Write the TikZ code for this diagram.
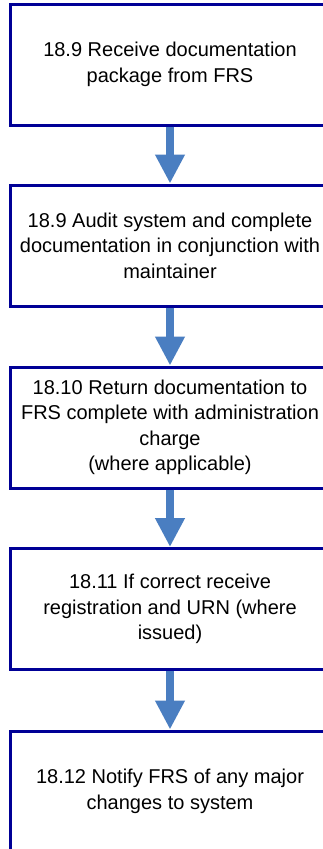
\documentclass[tikz,border=0pt]{standalone}
\usepackage{fontspec}
\setmainfont{Liberation Sans}
\usetikzlibrary{arrows.meta}
\definecolor{boxline}{RGB}{0,0,150}
\definecolor{flowblue}{RGB}{74,126,193}
\begin{document}
\begin{tikzpicture}[x=1pt,y=1pt,
  stepbox/.style={draw=boxline, line width=3pt, fill=white,
    minimum width=320pt, minimum height=121pt, inner sep=0pt,
    align=center, font=\fontsize{20pt}{25.5pt}\selectfont},
  flow/.style={draw=flowblue, line width=8.5pt,
    -{Triangle[width=28pt,length=29pt]}, flowblue}]
\useasboundingbox (0,0) rectangle (323,-849);
\node[stepbox] (s1) at (170,-64.5) {18.9 Receive documentation\\package from FRS};
\node[stepbox] (s2) at (170,-245.5) {18.9 Audit system and complete\\documentation in conjunction with\\maintainer};
\node[stepbox] (s3) at (170,-427.5) {18.10 Return documentation to\\FRS complete with administration\\charge\\(where applicable)};
\node[stepbox] (s4) at (170,-609) {18.11 If correct receive\\registration and URN (where\\issued)};
\node[stepbox] (s5) at (170,-791.5) {18.12 Notify FRS of any major\\changes to system};
\draw[flow] (s1.south) -- (s2.north);
\draw[flow] (s2.south) -- (s3.north);
\draw[flow] (s3.south) -- (s4.north);
\draw[flow] (s4.south) -- (s5.north);
\end{tikzpicture}
\end{document}
